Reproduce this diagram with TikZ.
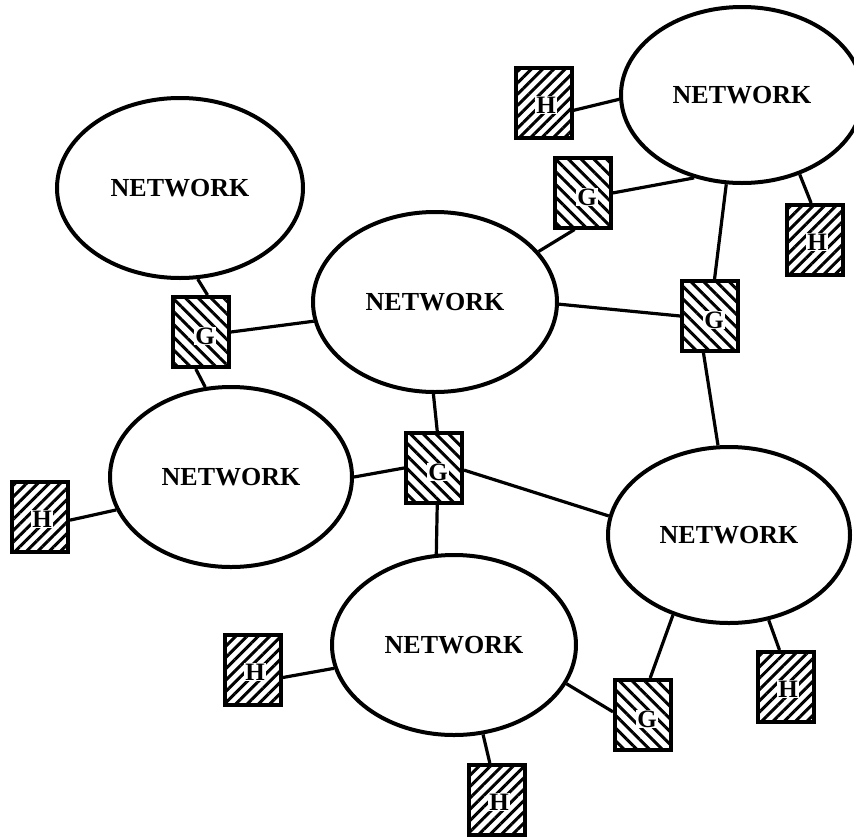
\documentclass[tikz,border=0pt]{standalone}
\usepackage{fontspec}
\setmainfont{Liberation Serif}
\usetikzlibrary{shapes.geometric,patterns.meta}
\tikzset{
  net/.style={ellipse, draw, line width=4pt, inner sep=0pt,
    font=\fontsize{26}{26}\selectfont\bfseries},
  box/.style={rectangle, draw, line width=4pt, inner sep=0pt,
    minimum width=56pt, minimum height=70pt},
  gate/.style={box,
    pattern={Lines[angle=-45,distance=9pt,line width=3pt]}},
  host/.style={box,
    pattern={Lines[angle=45,distance=8pt,line width=3pt]}},
  tag/.style={fill=white, inner sep=1pt,
    font=\fontsize{25}{25}\selectfont\bfseries},
  link/.style={line width=3.2pt},
}
\begin{document}
\begin{tikzpicture}[x=1pt,y=-1pt]
\useasboundingbox (0,0) rectangle (854,838);

% networks
\node[net, minimum width=246pt, minimum height=180pt] (n1) at (180,188) {NETWORK};
\node[net, minimum width=242pt, minimum height=176pt] (n2) at (742,95) {NETWORK};
\node[net, minimum width=244pt, minimum height=180pt] (n3) at (435,302) {NETWORK};
\node[net, minimum width=242pt, minimum height=180pt] (n4) at (231,477) {NETWORK};
\node[net, minimum width=242pt, minimum height=176pt] (n5) at (729,535) {NETWORK};
\node[net, minimum width=244pt, minimum height=180pt] (n6) at (454,645) {NETWORK};

% gateways
\node[gate] (gtr) at (583,193) {};
\node[gate] (gl)  at (201,332) {};
\node[gate] (gr)  at (710,316) {};
\node[gate] (gc)  at (434,468) {};
\node[gate] (gb)  at (643,715) {};

% hosts
\node[host] (htop) at (544,103) {};
\node[host] (hr)   at (815,240) {};
\node[host] (hl)   at (40,517)  {};
\node[host] (hbl)  at (253,670) {};
\node[host] (hbr)  at (786,687) {};
\node[host] (hb)   at (497,800) {};

% letters on the boxes
\foreach \b in {gtr,gl,gr,gc,gb}
  \node[tag] (t-\b) at ([shift={(4,4)}]\b.center) {G};
\foreach \b in {htop,hr,hl,hbl,hbr,hb}
  \node[tag] (t-\b) at ([shift={(2,2)}]\b.center) {H};

% links
\draw[link] (htop.-14) -- (n2.182);
\draw[link] (gtr.east) -- (n2.240);
\draw[link] (n2.260)   -- (gr.83);
\draw[link] (n2.306)   -- (hr.96);
\draw[link] (gtr.257)  -- (n3.26);
\draw[link] (n1.281)   -- (gl.80);
\draw[link] (gl.east)  -- (n3.189);
\draw[link] (gl.262)   -- (n4.106);
\draw[link] (n3.359)   -- (gr.west);
\draw[link] (gr.260)   -- (n5.97);
\draw[link] (hl.-6)    -- (n4.196);
\draw[link] (n4.0)     -- (gc.west);
\draw[link] (gc.85)    -- (n3.269);
\draw[link] (gc.-4)    -- (n5.171);
\draw[link] (gc.275)   -- (n6.101);
\draw[link] (hbl.-14)  -- (n6.191);
\draw[link] (n6.341)   -- (gb.174);
\draw[link] (n6.288)   -- (hb.101);
\draw[link] (n5.235)   -- (gb.79);
\draw[link] (n5.295)   -- (hbr.100);
\end{tikzpicture}
\end{document}
